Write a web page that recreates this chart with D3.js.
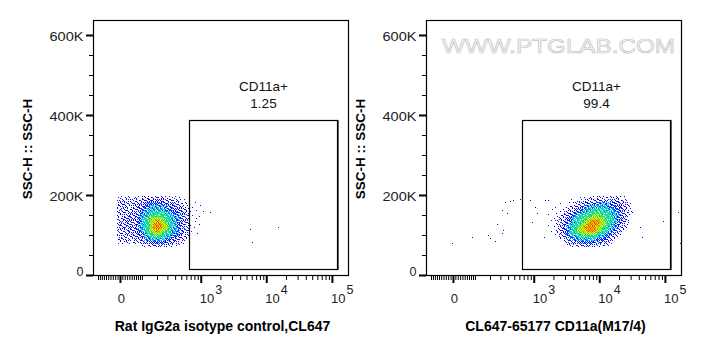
<!DOCTYPE html>
<html><head><meta charset="utf-8">
<script src="https://cdn.jsdelivr.net/npm/d3@7"></script>
<style>body{margin:0;background:#fff;} svg{display:block;}</style>
</head><body>
<svg id="chart" width="703" height="356"></svg>
<script>
// ---------------- data ----------------
const xTitles = ["Rat IgG2a isotype control,CL647", "CL647-65177 CD11a(M17/4)"];
const yTitle = "SSC-H :: SSC-H";
const gateName = "CD11a+";
const gatePercents = ["1.25", "99.4"];
const gateX = [660, 119500];
const gateY = [15000, 387500];
const watermark = "WWW.PTGLAB.COM";

const yMajorTicks = [0, 200000, 400000, 600000];
const yTickLabels = ["0", "200K", "400K", "600K"];
const yMinorTicks = [50000, 100000, 150000, 250000, 300000, 350000, 450000, 500000, 550000];
const xMajorTicks = [0, 1000, 10000, 100000];
const xTickBase = ["0", "10", "10", "10"];
const xTickExp = ["", "3", "4", "5"];
const xMinorTicks = [-100, -90, -80, -70, -60, -50, -40, -30, -20, -10,
  10, 20, 30, 40, 50, 60, 70, 80, 90,
  100, 200, 300, 400, 500, 600, 700, 800, 900,
  2000, 3000, 4000, 5000, 6000, 7000, 8000, 9000,
  20000, 30000, 40000, 50000, 60000, 70000, 80000, 90000];

// density grids (events per cell, 0-9), rows from high SSC to low SSC
const gridY = [70000, 197500];
const leftGridX = [-12, 1250];
const leftDensity = [
  "121211212232232221121000000000",
  "232322323344444333322110100000",
  "233323334455555444433211001000",
  "323232344556665554443321010100",
  "233323345566666655544332001000",
  "323234345667777766554432100010",
  "232343456677777776655433010100",
  "324343456778888777665433101000",
  "233443456778898877665443001000",
  "343433456778999887765432100100",
  "234343456778999887665433010000",
  "323433456778898877665433100000",
  "232333445677888777655432001000",
  "323233344667777766554322000000",
  "232323334556666655443221000000",
  "121212223344555544332110000000",
  "000000001122333322211000000000"
];
const rightGridX = [1490, 35000];
const rightDensity = [
  "000000000001011212222122211000",
  "100000001011222233333333322100",
  "000001001123334445555544433210",
  "000100012233455666666555443210",
  "001000122344566677766665543210",
  "000101233455667777777766543211",
  "010012334566777788777766543210",
  "000122345667778888887776543100",
  "001123445677788999887776543200",
  "010123456777889999887765432100",
  "000123456778899998877665432100",
  "001123456778889998877654321000",
  "000123456777888887776543210000",
  "000012345667777776665432100000",
  "000001234556666665554321000000",
  "000000123344555544433210000000",
  "000000012222333322221100000000"
];
// isolated events [fluorescence, SSC-H]
const leftOutliers = [[1384, 158000], [5645, 114000], [5994, 82000], [15200, 121000]];
const rightOutliers = [
  [356, 183000], [428, 185000], [483, 187500], [614, 189000], [315, 162500],
  [379, 154000], [261, 127500], [187, 100000], [200, 92000], [244, 86000],
  [315, 104000], [334, 112500], [83, 94000], [-3, 79000], [876, 187500],
  [1045, 171000], [1109, 154000], [930, 133000], [1449, 96000], [1667, 187500],
  [41700, 121000], [44000, 96000], [94500, 136000], [160000, 158000], [172000, 79000]
];

// ---------------- drawing ----------------
const W = 118;                       // biexponential width parameter
const tf = v => Math.asinh(v / W);
const xDomain = [-129, 175800];
const size = 255;
const xLin = d3.scaleLinear().domain(xDomain.map(tf)).range([0, size]);
const x = v => xLin(tf(v));
const y = d3.scaleLinear().domain([0, 637500]).range([size, 0]);

const svg = d3.select("#chart");
const FONT = "'Liberation Sans', Arial, sans-serif";

const panels = [
  {ox: 93, title: xTitles[0], pct: gatePercents[0], grid: leftDensity, gx: leftGridX, out: leftOutliers},
  {ox: 426, title: xTitles[1], pct: gatePercents[1], grid: rightDensity, gx: rightGridX, out: rightOutliers}
];

const palette = {
  1: ["#0000ff", "#0000ff", "#1818d0", "#0000ff"],
  2: ["#0000ff", "#0000ff", "#1818d0", "#0000ff"],
  3: ["#0000ff", "#0000ff", "#1010e0", "#0020ff"],
  4: ["#0000ff", "#0030ff", "#0000ff", "#0000e8"],
  5: ["#0000ff", "#0070ff", "#0010ff", "#00b0ff"],
  6: ["#00b0ff", "#0040ff", "#00e0ff", "#20d090"],
  7: ["#30e040", "#00e0ff", "#60f040", "#00b8ff"],
  8: ["#80f020", "#e0f000", "#40e040", "#ffd800"],
  9: ["#ffb000", "#ff3000", "#d8f000", "#ff7000"]
};
const nPix = [0, 1, 2, 3, 4, 6, 7, 8, 9, 9];
const order = [4, 0, 8, 2, 6, 1, 7, 3, 5];

panels.forEach((p, pi) => {
  const g = svg.append("g").attr("transform", `translate(${p.ox},20)`);

  // density pixels
  const pix = [];
  const rows = p.grid.length, cols = p.grid[0].length;
  const t0 = tf(p.gx[0]), t1 = tf(p.gx[1]);
  const dyv = (gridY[1] - gridY[0]) / rows;
  p.grid.forEach((row, r) => {
    for (let c = 0; c < cols; c++) {
      const L = +row[c];
      if (!L) continue;
      const cx = Math.round(xLin(t0 + (t1 - t0) * c / cols));
      const cy = Math.round(y(gridY[1] - r * dyv));
      const off = (c * 4 + r * 7) % 9;
      for (let i = 0; i < nPix[L]; i++) {
        const k = order[(i + off) % 9];
        const col = palette[L][(k * 3 + r * 2 + c * 5) % 4];
        pix.push({x: cx + (k % 3), y: cy + Math.floor(k / 3), col});
      }
    }
  });
  p.out.forEach(d => pix.push({x: Math.round(x(d[0])), y: Math.round(y(d[1])), col: "#0000ff"}));
  g.append("g").attr("shape-rendering", "crispEdges").selectAll("rect").data(pix).join("rect")
    .attr("x", d => d.x).attr("y", d => d.y).attr("width", 1).attr("height", 1).attr("fill", d => d.col);

  // frame
  g.append("rect").attr("x", 0.5).attr("y", 0.5).attr("width", size).attr("height", size)
    .attr("fill", "none").attr("stroke", "#000").attr("stroke-width", 1.2);

  // gate
  const gx0 = x(gateX[0]), gx1 = x(gateX[1]), gy0 = y(gateY[1]), gy1 = y(gateY[0]);
  g.append("rect").attr("x", Math.round(gx0) + 0.5).attr("y", Math.round(gy0) + 0.5)
    .attr("width", Math.round(gx1 - gx0)).attr("height", Math.round(gy1 - gy0))
    .attr("fill", "none").attr("stroke", "#000").attr("stroke-width", 1.2);
  g.append("line").attr("x1", Math.round(gx0) + Math.round(gx1 - gx0) + 1).attr("x2", Math.round(gx0) + Math.round(gx1 - gx0) + 1)
    .attr("y1", Math.round(gy0)).attr("y2", Math.round(gy1) + 1).attr("stroke", "#000").attr("stroke-width", 1.2);
  const gcx = (gx0 + gx1) / 2 + 0.5;
  g.append("text").attr("x", gcx).attr("y", gy0 - 29.3).attr("text-anchor", "middle")
    .attr("font-family", FONT).attr("font-size", 13.5).attr("fill", "#111").text(gateName);
  g.append("text").attr("x", gcx).attr("y", gy0 - 12).attr("text-anchor", "middle")
    .attr("font-family", FONT).attr("font-size", 13.5).attr("fill", "#111").text(p.pct);

  // y axis
  const yMaj = g.append("g").call(d3.axisLeft(y).tickValues(yMajorTicks).tickSize(7).tickFormat(""));
  yMaj.select(".domain").remove();
  yMaj.selectAll("line").attr("stroke-width", 2);
  const yMin = g.append("g").call(d3.axisLeft(y).tickValues(yMinorTicks).tickSize(4).tickFormat(""));
  yMin.select(".domain").remove();
  g.append("g").selectAll("text").data(yMajorTicks).join("text")
    .attr("x", -9.5).attr("y", d => Math.min(y(d) + 5.6, size + 1))
    .attr("text-anchor", "end").attr("font-family", FONT).attr("font-size", 12.5).attr("fill", "#222")
    .each(function(d, i) {
      const s = d3.select(this).text(yTickLabels[i]);
      if (yTickLabels[i].length > 1) s.attr("textLength", 34).attr("lengthAdjust", "spacingAndGlyphs");
    });

  // x axis (biexponential)
  const xAxisScale = xLin.copy();
  const xMaj = g.append("g").attr("transform", `translate(0,${size + 1})`)
    .call(d3.axisBottom(xAxisScale).tickValues(xMajorTicks.map(tf)).tickSize(7).tickFormat(""));
  xMaj.select(".domain").remove();
  xMaj.selectAll("line").attr("stroke-width", 2);
  const xMin = g.append("g").attr("transform", `translate(0,${size + 1})`)
    .call(d3.axisBottom(xAxisScale).tickValues(xMinorTicks.map(tf)).tickSize(4).tickFormat(""));
  xMin.select(".domain").remove();
  const xl = g.append("g").attr("font-family", FONT).attr("fill", "#222");
  xMajorTicks.forEach((v, i) => {
    const px = x(v);
    if (xTickExp[i] === "") {
      xl.append("text").attr("x", px + 1.5).attr("y", 282.7).attr("text-anchor", "middle")
        .attr("font-size", 13).text(xTickBase[i]);
    } else {
      xl.append("text").attr("x", px - 1).attr("y", 282.7).attr("font-size", 13).text(xTickBase[i]);
      xl.append("text").attr("x", px + 14.5).attr("y", 274).attr("font-size", 12.5).text(xTickExp[i]);
    }
  });

  // axis titles
  g.append("text").attr("x", size / 2 + 2).attr("y", 311).attr("text-anchor", "middle")
    .attr("font-family", FONT).attr("font-weight", "bold").attr("font-size", 14).attr("fill", "#000")
    .text(p.title);
  g.append("text").attr("transform", `translate(-61.5,129) rotate(-90)`).attr("text-anchor", "middle")
    .attr("font-family", FONT).attr("font-weight", "bold").attr("font-size", 13.5).attr("fill", "#000")
    .text(yTitle);
});

// watermark on right panel
svg.append("text").attr("x", 442).attr("y", 53).attr("font-family", FONT).attr("font-size", 21)
  .attr("textLength", 233).attr("lengthAdjust", "spacingAndGlyphs")
  .attr("fill", "#f6f6f6").attr("stroke", "#c6c6c6").attr("stroke-width", 0.7).text(watermark);
</script>
</body></html>
